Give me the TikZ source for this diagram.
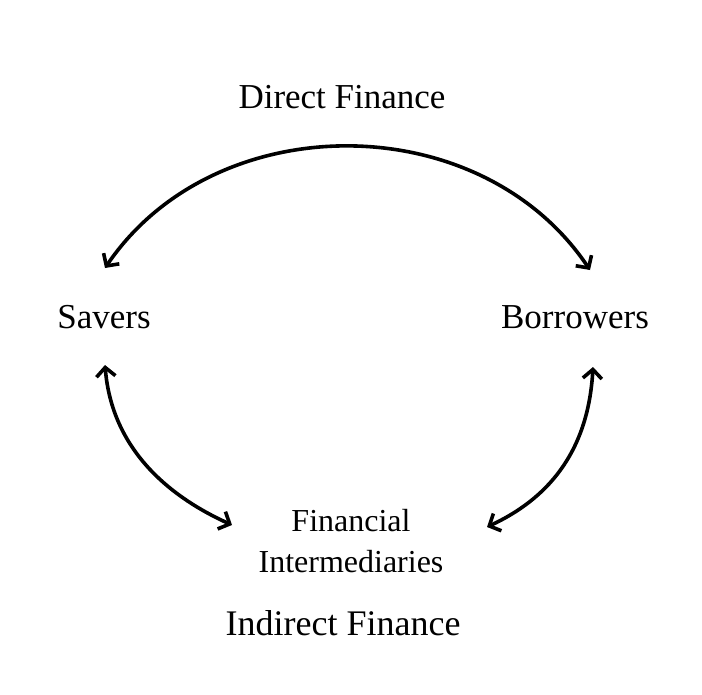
\documentclass[tikz,border=0pt]{standalone}
\usepackage{fontspec}
\setmainfont{Liberation Serif}
\usetikzlibrary{arrows.meta}
\begin{document}
\begin{tikzpicture}[x=1pt,y=-1pt,
  lbl/.style={font=\fontsize{35}{40}\selectfont,inner sep=0pt},
  conn/.style={line width=3.6pt,{Straight Barb[length=9pt,width=19pt]}-{Straight Barb[length=9pt,width=19pt]}}]
\useasboundingbox[fill=white] (0,0) rectangle (702,694);
\node[lbl] (direct) at (342,97) {Direct Finance};
\node[lbl] (savers) at (104,317) {Savers};
\node[lbl] (borrowers) at (575,317) {Borrowers};
\node[lbl,align=center,font=\fontsize{32}{41}\selectfont] (fi) at (351,541) {Financial\\Intermediaries};
\node[lbl,font=\fontsize{36}{40}\selectfont] (indirect) at (343,623) {Indirect Finance};
\coordinate (a1) at (105,268);
\coordinate (a2) at (590,270);
\coordinate (b1) at (105,365);
\coordinate (b2) at (232,525);
\coordinate (c1) at (593,367);
\coordinate (c2) at (487,527);
\draw[conn] (a1) .. controls (215,106) and (480,106) .. (a2);
\draw[conn] (b1) .. controls (112,450) and (170,497) .. (b2);
\draw[conn] (c1) .. controls (588,455) and (545,500) .. (c2);
\end{tikzpicture}
\end{document}
